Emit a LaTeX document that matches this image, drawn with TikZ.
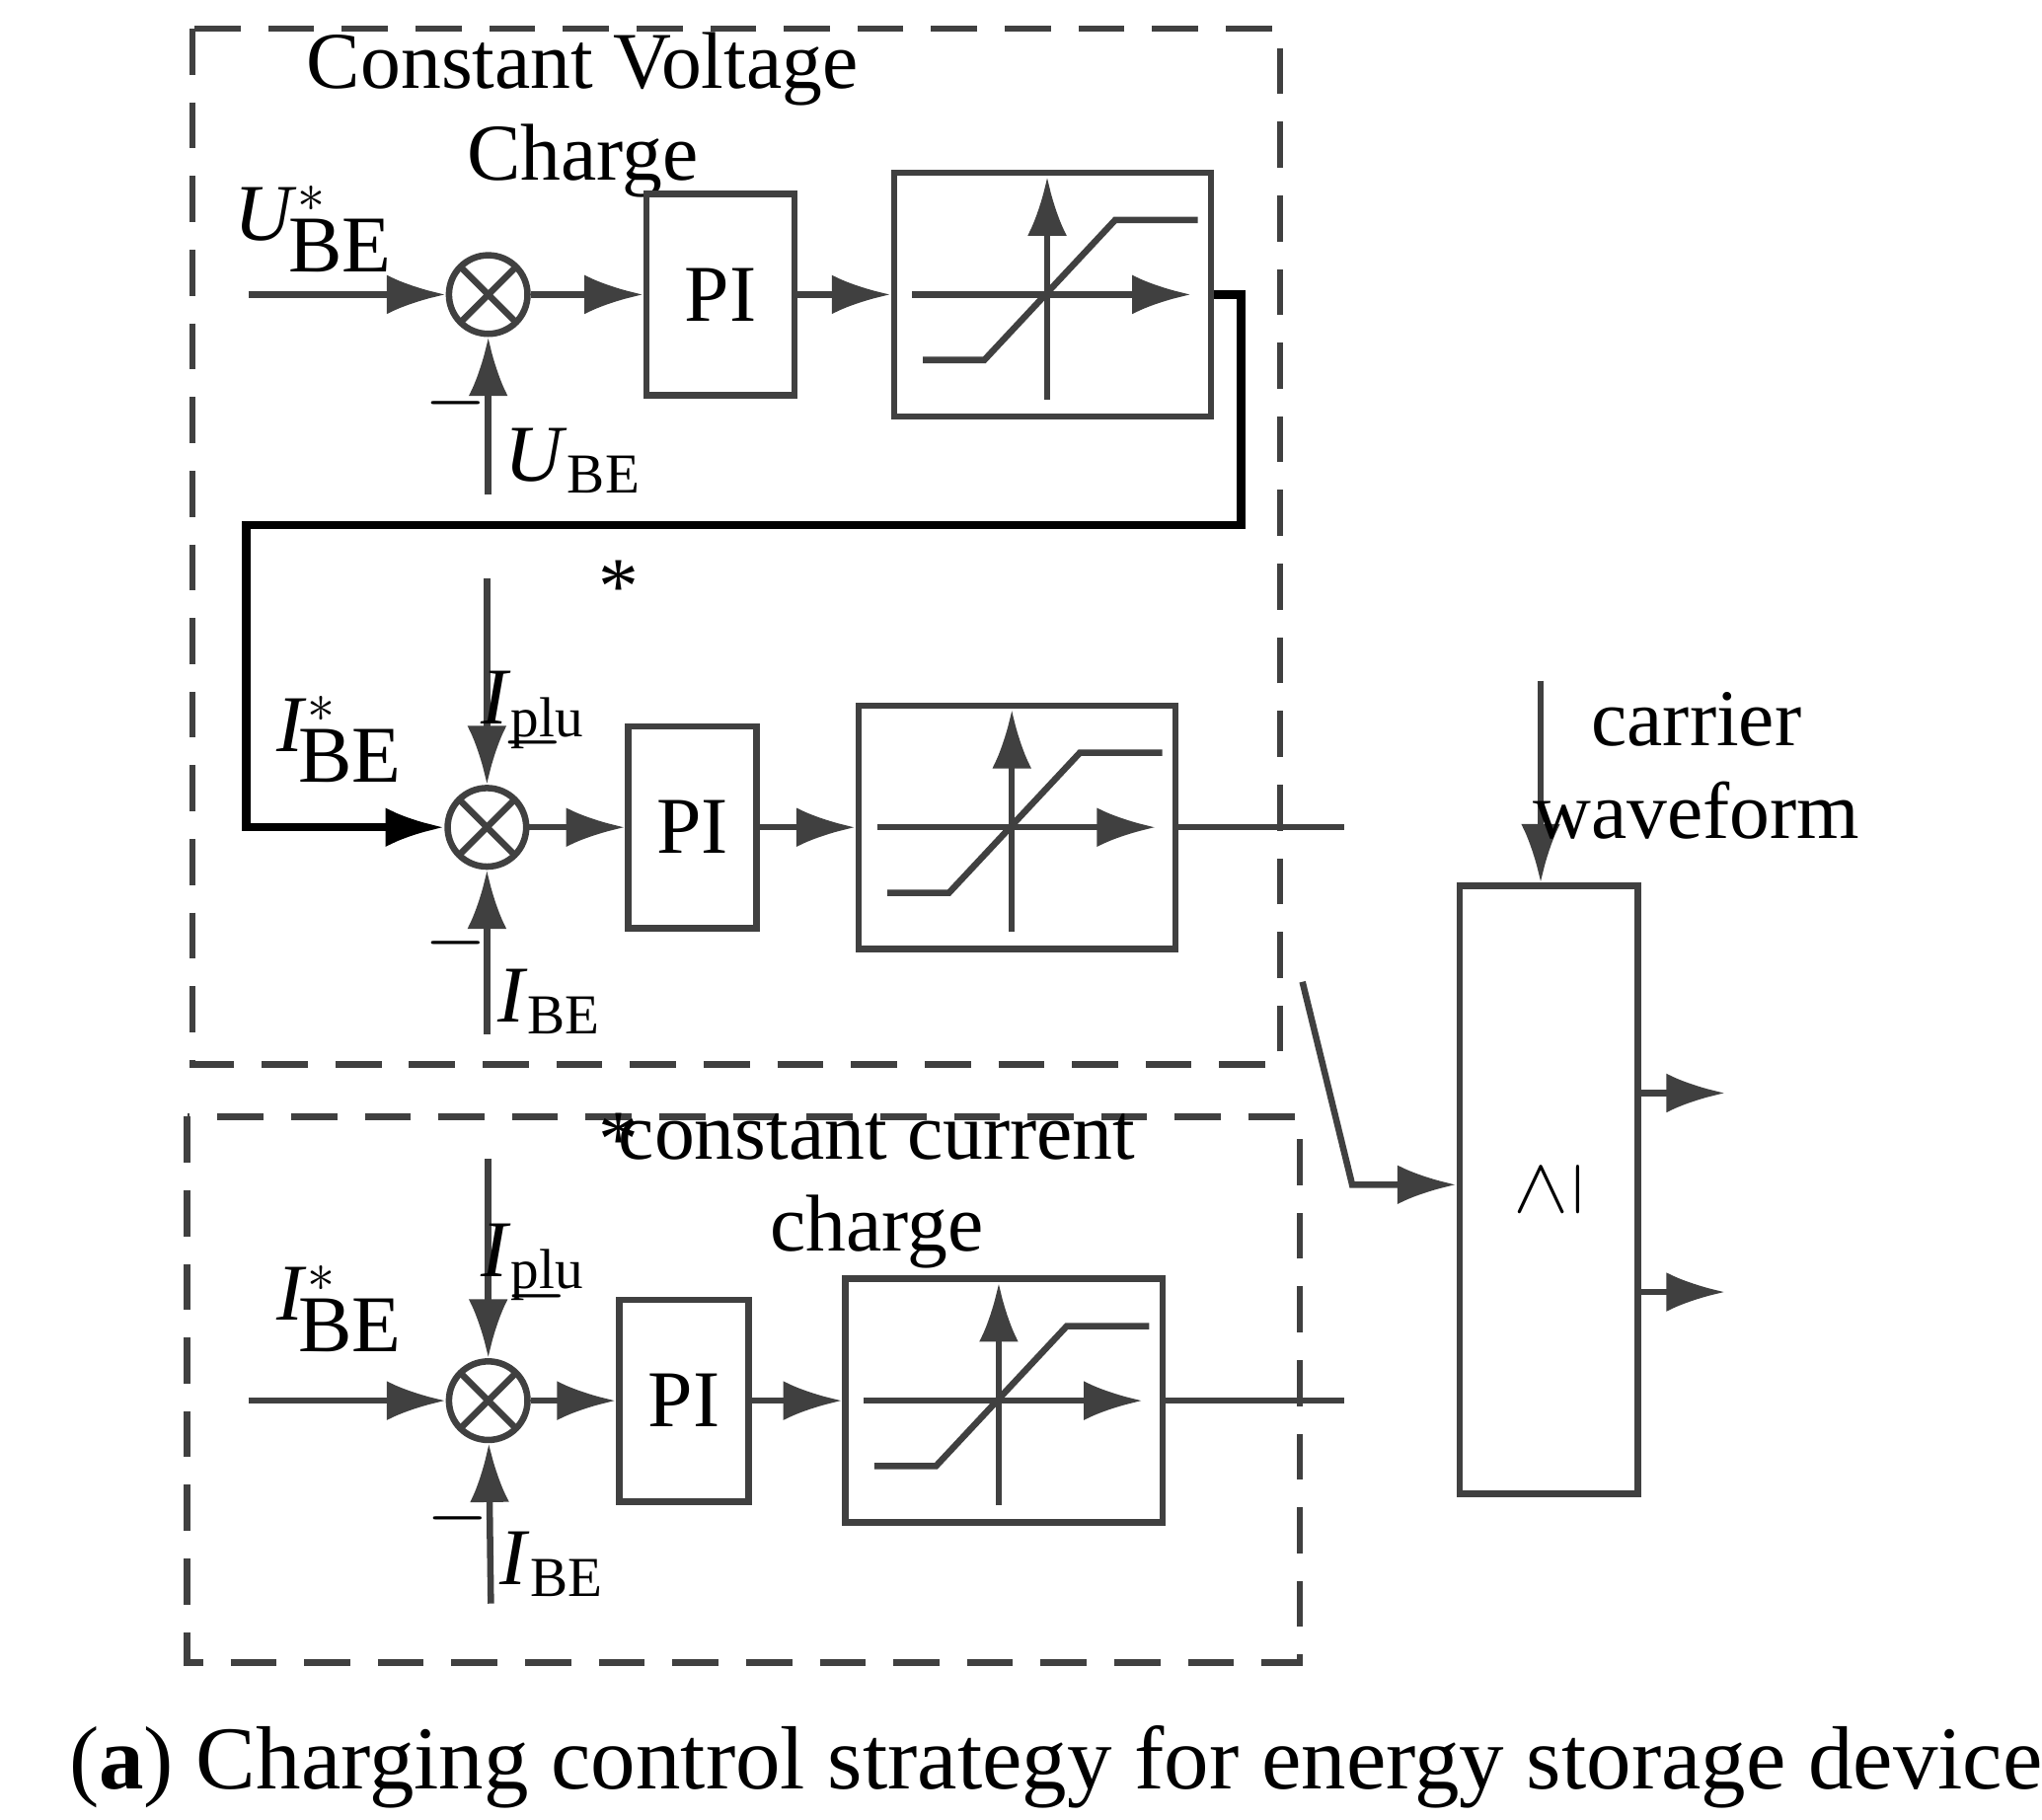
\documentclass[tikz,border=0pt]{standalone}
\usepackage{fontspec}
\setmainfont{Liberation Serif}
\usetikzlibrary{arrows.meta}
\definecolor{dg}{HTML}{404040}
\newcommand{\vr}[2]{\textit{#1}\textsubscript{#2}}
\begin{document}
\begin{tikzpicture}
  [x=0.01cm,y=-0.01cm,line width=1.4pt,draw=dg,
   font=\fontsize{17.5}{20}\selectfont,
   arc/.style={-{Latex[length=4.5mm,width=3mm]}},
   sum/.style={shape=circle,draw=dg,minimum size=0.6cm,inner sep=0pt,
     path picture={\draw[dg,line width=1.4pt] (path picture bounding box.north west)--(path picture bounding box.south east)
       (path picture bounding box.north east)--(path picture bounding box.south west);}},
   blk/.style={draw=dg,inner sep=0pt},
   frame/.style={draw=dg,dashed,dash pattern=on 10pt off 6pt}]
  \useasboundingbox (0,0) rectangle (1560,1390);

  % frames
  \draw[frame] (147,22) rectangle (978,813);
  \draw[frame] (143,853) rectangle (993,1270);
  \node[align=center] at (445,88) {Constant Voltage\\Charge};
  \node[align=center] at (670,910) {constant current\\charge};

  % blocks
  \foreach \n/\sx/\px/\pa/\ax/\y in {1/373/494/607/683/225,
      2/372/480/578/656/632, 3/373/473/572/646/1070}{
    \node[sum] (s\n) at (\sx,\y) {};
    \node[blk,minimum width={(\pa-\px)*0.01cm},minimum height=1.54cm] (pi\n) at ({(\px+\pa)/2},\y) {PI};
    \node[blk,minimum width=2.42cm,minimum height=1.86cm] (sat\n) at (\ax+121,\y) {};
    \draw[arc] (s\n) -- (pi\n);
    \draw[arc] (pi\n) -- (sat\n);
    \draw[arc] (\ax+14,\y) -- (\ax+227,\y);
    \draw[arc] (\ax+117,\y+80) -- (\ax+117,\y-90);
    \draw (\ax+22,\y+50) -- (\ax+69,\y+50) -- (\ax+169,\y-57) -- (\ax+232,\y-57);
  }

  % loop 1
  \coordinate (u0) at (190,225);
  \coordinate (u1) at (373,378);
  \draw[arc] (u0) -- (s1);
  \draw[arc] (u1) -- (s1);
  \node at (240,175) {\textit{U}$^{*}_{\!\textrm{BE}}$};
  \node at (438,352) {\vr{U}{BE}};
  \node at (348,308) {$-$};
  \draw[line width=1.8pt,black,arc] (sat1.east) -- (948,225) -- (948,401) -- (188,401) -- (188,632) -- (s2);

  % loop 2
  \coordinate (p2) at (372,442);
  \coordinate (i2) at (372,790);
  \draw[arc] (p2) -- (s2);
  \draw[arc] (i2) -- (s2);
  \node at (260,565) {\textit{I}$^{*}_{\!\textrm{BE}}$};
  \node at (428,500) {\vr{I}{plu}\raisebox{3ex}{\,*}};
  \node at (407,567) {$-$};
  \node at (420,765) {\vr{I}{BE}};
  \node at (348,720) {$-$};
  \coordinate (o2) at (1027,632);
  \draw (sat2.east) -- (o2);

  % loop 3
  \coordinate (u3) at (190,1070);
  \coordinate (p3) at (373,885);
  \coordinate (i3) at (375,1225);
  \draw[arc] (u3) -- (s3);
  \draw[arc] (p3) -- (s3);
  \draw[arc] (i3) -- (s3);
  \node at (260,1000) {\textit{I}$^{*}_{\!\textrm{BE}}$};
  \node at (428,922) {\vr{I}{plu}\raisebox{3ex}{\,*}};
  \node at (410,990) {$-$};
  \node at (422,1195) {\vr{I}{BE}};
  \node at (350,1160) {$-$};
  \coordinate (o3) at (1027,1070);
  \draw (sat3.east) -- (o3);

  % comparator
  \node[blk,minimum width=1.36cm,minimum height=4.64cm] (cmp) at (1183,909) {\rotatebox{90}{$\geq$}};
  \coordinate (c0) at (1177,520);
  \draw[arc] (c0) -- (cmp.north -| c0);
  \node[align=center] at (1296,585) {carrier\\waveform};
  \coordinate (k0) at (995,750);
  \draw[arc] (k0) -- (1033,905) -- (cmp.west |- 0,905);
  \draw[arc] (1251,835) -- (1318,835);
  \draw[arc] (1251,987) -- (1318,987);

  \node[font=\fontsize{19.5}{24}\selectfont] at (820,1350) {(\textbf{a}) Charging control strategy for energy storage devices};
\end{tikzpicture}
\end{document}
